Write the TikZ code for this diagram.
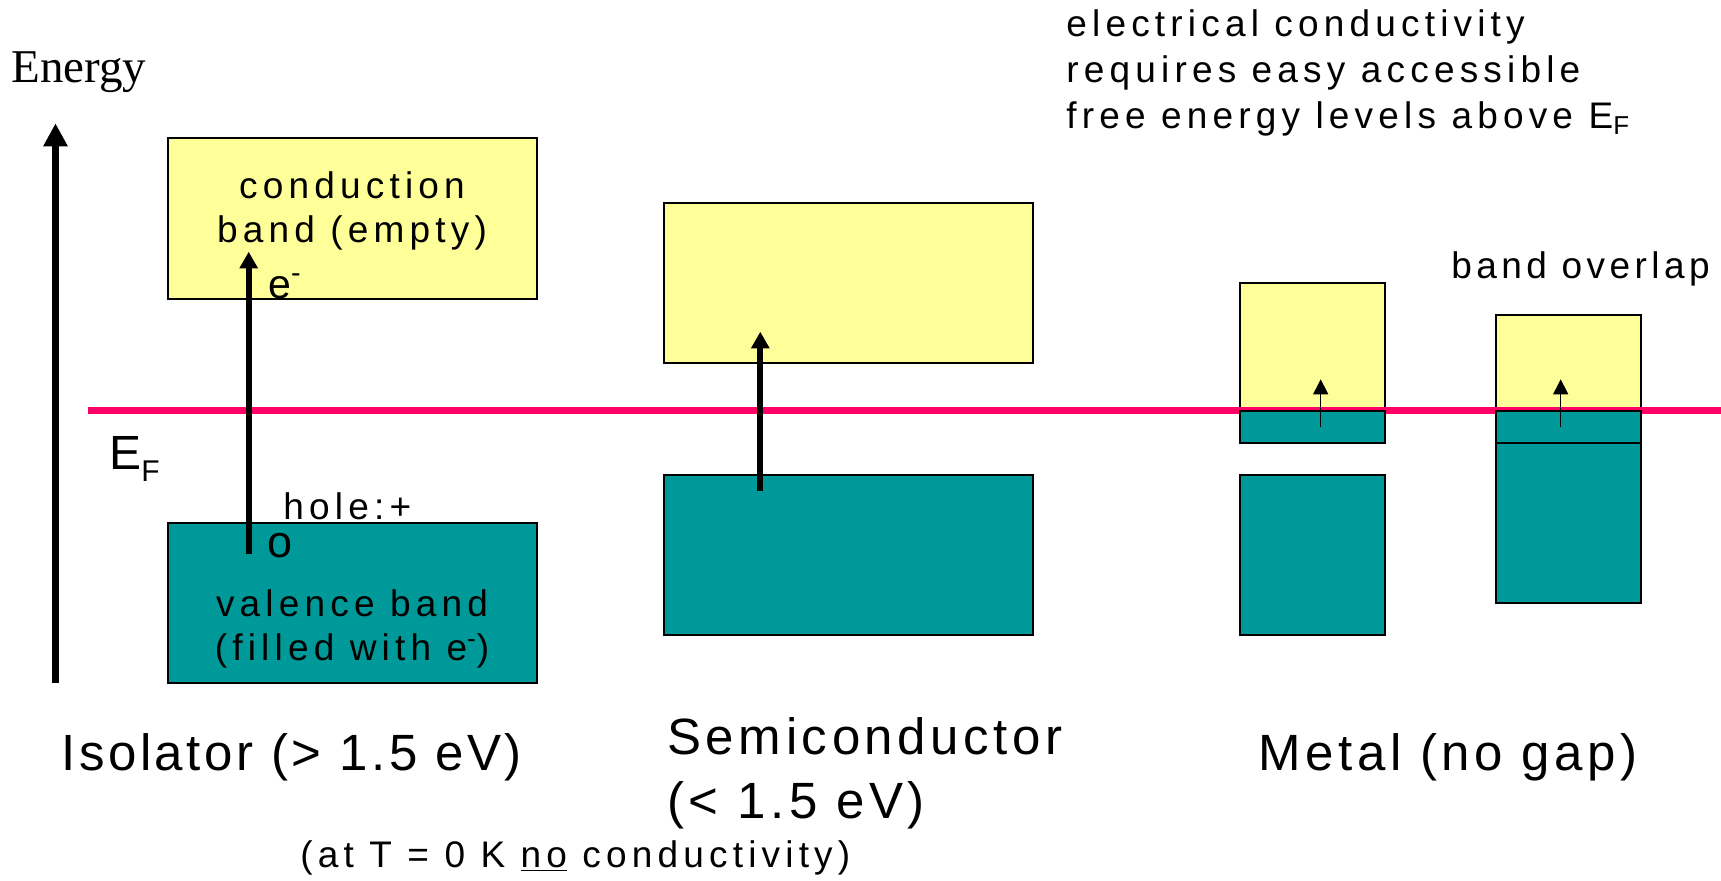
\documentclass[tikz,border=0pt]{standalone}
\usepackage{fontspec}
\setmainfont{Liberation Sans}
\newfontfamily\slidefont[LetterSpace=14]{Liberation Sans}
\newfontfamily\bigslidefont[LetterSpace=9]{Liberation Sans}
\newfontfamily\serifslide{Liberation Serif}
\usepackage{tikz}
\usetikzlibrary{arrows.meta, positioning}
\definecolor{cbyellow}{RGB}{255,255,153}
\definecolor{vbteal}{RGB}{0,153,153}
\definecolor{fermipink}{RGB}{255,0,102}
\tikzset{
  band/.style={rectangle,draw=black,line width=1pt,inner sep=0pt,outer sep=0pt},
  cband/.style={band,fill=cbyellow},
  vband/.style={band,fill=vbteal},
  fermiline/.style={line width=3.75pt,color=fermipink},
  axisarr/.style={-{Triangle[width=11.5pt,length=11.5pt]},line width=3.75pt},
  jumparr/.style={-{Triangle[width=8.75pt,length=8.3pt]},line width=3pt},
  thinarr/.style={-{Triangle[width=7.5pt,length=7.5pt]},line width=0.7pt},
  smalltxt/.style={inner sep=0pt,font=\slidefont\fontsize{18.5pt}{22pt}\selectfont},
  bigtxt/.style={inner sep=0pt,font=\bigslidefont\fontsize{25.5pt}{31.7pt}\selectfont}
}

\begin{document}
\begin{tikzpicture}[x=0.5pt,y=-0.5pt]
  \useasboundingbox (0,0) rectangle (1721,880);

  %% Energy axis
  \node[anchor=base west,inner sep=0pt,font=\serifslide\fontsize{23.5pt}{28pt}\selectfont] (energy) at (11,82.7) {Energy};
  \coordinate (ebot) at (55.5,682.7);
  \coordinate (etop) at (55.5,123.3);
  \draw[axisarr] (ebot) -- (etop);

  %% Conduction bands
  \node[cband,minimum width=184.7pt,minimum height=80.5pt] (isoCB) at (352.3,218.5) {};
  \node[cband,minimum width=184.5pt,minimum height=80pt] (semCB) at (848.5,282.7) {};
  \node[cband,minimum width=72.5pt,minimum height=64pt] (metCB) at (1312.5,346.7) {};
  \node[cband,minimum width=72.5pt,minimum height=48pt] (ovlCB) at (1568.5,362.7) {};

  %% Fermi level
  \coordinate (fleft) at (88,410.7);
  \coordinate (fright) at (1721,410.7);
  \draw[fermiline] (fleft) -- (fright);

  %% Valence bands
  \node[vband,minimum width=184.7pt,minimum height=80.3pt] (isoVB) at (352.3,603) {};
  \node[vband,minimum width=184.5pt,minimum height=80pt] (semVB) at (848.5,554.7) {};
  \node[vband,minimum width=72.5pt,minimum height=16.15pt,below=0pt of metCB] (metMid) {};
  \node[vband,minimum width=72.5pt,minimum height=80.15pt] (metVB) at (1312.5,554.85) {};
  \node[vband,minimum width=72.5pt,minimum height=16.15pt,below=0pt of ovlCB] (ovlMid) {};
  \node[vband,minimum width=72.5pt,minimum height=79.85pt,below=0pt of ovlMid] (ovlVB) {};

  %% Excitation arrows
  \coordinate (isoFrom) at (248.7,554.3);
  \coordinate (isoTo) at (248.7,251.7);
  \coordinate (semFrom) at (760.3,490.7);
  \coordinate (semTo) at (760.3,331.7);
  \coordinate (metFrom) at (1320.7,427.3);
  \coordinate (metTo) at (1320.7,379.3);
  \coordinate (ovlFrom) at (1560.7,427.3);
  \coordinate (ovlTo) at (1560.7,379.3);
  \draw[jumparr] (isoFrom) -- (isoTo);
  \draw[jumparr] (semFrom) -- (semTo);
  \draw[thinarr] (metFrom) -- (metTo);
  \draw[thinarr] (ovlFrom) -- (ovlTo);

  %% Labels (base = last line)
  \node[smalltxt,align=center,anchor=base] (cbtext) at (352,242.7) {conduction\\band (empty)};
  \node[smalltxt,align=center,anchor=base] (vbtext) at (352,660) {valence band\\(filled with e\textsuperscript{-})};
  \node[inner sep=0pt,anchor=base west,font=\slidefont\fontsize{20.5pt}{24pt}\selectfont] (elec) at (268,298) {e\textsuperscript{-}};
  \node[smalltxt,anchor=base west] (hole) at (283,519.3) {hole:+};
  \node[inner sep=0pt,anchor=base west,font=\slidefont\fontsize{22.5pt}{26pt}\selectfont] (holeo) at (267.5,557) {o};
  \node[inner sep=0pt,anchor=base west,font=\bigslidefont\fontsize{24pt}{28pt}\selectfont] (ef) at (109,469.3) {E\raisebox{-6.2pt}{\fontsize{15pt}{15pt}\selectfont F}};
  \node[inner sep=0pt,anchor=base west,font=\bigslidefont\fontsize{25.5pt}{31.7pt}\selectfont\addfontfeature{LetterSpace=7}] (isolbl) at (61,770) {Isolator (> 1.5 eV)};
  \node[bigtxt,anchor=base west,align=left] (semlbl) at (667,818.3) {Semiconductor\\(< 1.5 eV)};
  \node[bigtxt,anchor=base west] (metlbl) at (1258,770.7) {Metal (no gap)};
  \node[smalltxt,anchor=base west] (zerok) at (300,867) {(at T = 0 K \underline{no} conductivity)};
  \node[inner sep=0pt,anchor=base west,font=\slidefont\fontsize{18.5pt}{22pt}\selectfont\addfontfeature{LetterSpace=12}] (overlap) at (1451,278) {band overlap};
  \node[smalltxt,anchor=base west,align=left,font=\slidefont\fontsize{18.5pt}{23pt}\selectfont] (note) at (1066,128.4)
      {electrical conductivity\\requires easy accessible\\free energy levels above E\textsubscript{F}};
\end{tikzpicture}
\end{document}
